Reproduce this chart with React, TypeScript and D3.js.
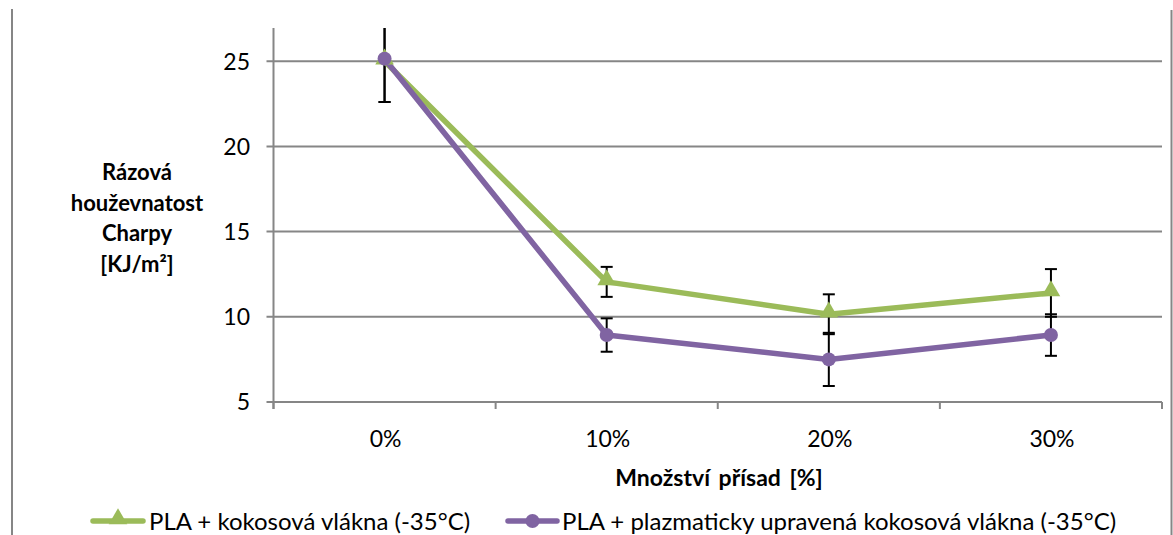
import React from "react";
import * as d3 from "d3";

const categories = ["0%", "10%", "20%", "30%"];
const greenValues = [25.0, 12.05, 10.15, 11.4];
const greenErrors = [2.4, 0.88, 1.17, 1.4];
const purpleValues = [25.15, 8.93, 7.5, 8.93];
const purpleErrors = [2.55, 0.98, 1.56, 1.22];
const yTicks = [5, 10, 15, 20, 25];
const seriesNames = [
  "PLA + kokosová vlákna (-35°C)",
  "PLA + plazmaticky upravená kokosová vlákna (-35°C)",
];
const yTitleLines = ["Rázová", "houževnatost", "Charpy", "[KJ/m²]"];
const xTitle = "Množství přísad [%]";

const W = 1173;
const H = 535;
const FONT = "Lato, 'Open Sans', sans-serif";
const GREEN = "#9BBB59";
const PURPLE = "#8064A2";
const GRID = "#868686";

export default function App() {
  const left = 273.5;
  const right = 1162;
  const top = 28;
  const bottom = 402;
  const x = d3.scaleBand<string>().domain(categories).range([left, right]).padding(0);
  const y = d3.scaleLinear().domain([5, 26.95]).range([bottom, top]);
  const cx = (c: string) => (x(c) as number) + x.bandwidth() / 2;
  const line = d3
    .line<number>()
    .x((_, i) => cx(categories[i]))
    .y((d) => y(d));
  const tri = d3.symbol().type(d3.symbolTriangle).size(150)();
  const series = [
    { name: seriesNames[0], values: greenValues, errors: greenErrors, color: GREEN, marker: "tri" },
    { name: seriesNames[1], values: purpleValues, errors: purpleErrors, color: PURPLE, marker: "circle" },
  ];
  const boundaries = [...categories.map((c) => x(c) as number), right];

  return (
    <svg width={W} height={H} style={{ display: "block", position: "absolute", left: 0, top: 0 }} fontFamily={FONT}>
      <defs>
        <clipPath id="plotclip">
          <rect x={left - 20} y={top} width={right - left + 40} height={bottom - top + 20} />
        </clipPath>
      </defs>
      <rect x={0} y={0} width={W} height={H} fill="#fff" />
      {/* chart borders */}
      <line x1={12} x2={12} y1={9} y2={H} stroke={GRID} strokeWidth={2} />
      <line x1={1171.5} x2={1171.5} y1={10} y2={H} stroke={GRID} strokeWidth={2} />
      {/* gridlines */}
      {yTicks.map((t) => (
        <g key={t}>
          <line x1={left - 7} x2={right} y1={y(t)} y2={y(t)} stroke={GRID} strokeWidth={2} />
          <text x={250} y={y(t)} dy="0.36em" textAnchor="end" fontSize={23} fill="#000">
            {t}
          </text>
        </g>
      ))}
      {/* axes */}
      <line x1={left} x2={left} y1={top} y2={bottom + 7} stroke={GRID} strokeWidth={2} />
      {boundaries.map((b, i) => (
        <line key={i} x1={b} x2={b} y1={bottom} y2={bottom + 7} stroke={GRID} strokeWidth={2} />
      ))}
      {categories.map((c) => (
        <text key={c} x={cx(c) + 1} y={447} textAnchor="middle" fontSize={23} fill="#000">
          {c}
        </text>
      ))}
      <text x={719} y={486} textAnchor="middle" fontSize={23} fontWeight="bold" wordSpacing={3} fill="#000">
        {xTitle}
      </text>
      {yTitleLines.map((l, i) => (
        <text key={i} x={137} y={180 + i * 30.5} textAnchor="middle" fontSize={22} fontWeight="bold" fill="#000">
          {l}
        </text>
      ))}
      {/* series */}
      <g clipPath="url(#plotclip)">
        {series.map((s) =>
          s.values.map((v, i) => {
            const px = cx(categories[i]);
            const y1 = y(v + s.errors[i]);
            const y2 = y(v - s.errors[i]);
            return (
              <g key={"e" + s.name + i} stroke="#000" strokeWidth={2}>
                <line x1={px} x2={px} y1={y1} y2={y2} />
                <line x1={px - 6} x2={px + 6} y1={y1} y2={y1} />
                <line x1={px - 6} x2={px + 6} y1={y2} y2={y2} />
              </g>
            );
          })
        )}
        {series.map((s) => (
          <path key={s.name} d={line(s.values) || ""} fill="none" stroke={s.color} strokeWidth={5.5} strokeLinejoin="round" />
        ))}
        {series.map((s) =>
          s.values.map((v, i) => {
            const px = cx(categories[i]);
            return s.marker === "tri" ? (
              <path key={s.name + i} d={tri || ""} transform={`translate(${px},${y(v) - 2})`} fill={s.color} />
            ) : (
              <circle key={s.name + i} cx={px} cy={y(v)} r={7} fill={s.color} />
            );
          })
        )}
      </g>
      {/* legend */}
      <g>
        <line x1={93} x2={143} y1={521} y2={521} stroke={GREEN} strokeWidth={5.5} strokeLinecap="round" />
        <path d={tri || ""} transform="translate(118,519)" fill={GREEN} />
        <text x={149} y={521} dy="0.36em" fontSize={24} fill="#000">
          {seriesNames[0]}
        </text>
        <line x1={508} x2={557} y1={521} y2={521} stroke={PURPLE} strokeWidth={5.5} strokeLinecap="round" />
        <circle cx={532.5} cy={521} r={7} fill={PURPLE} />
        <text x={562} y={521} dy="0.36em" fontSize={24} fill="#000">
          {seriesNames[1]}
        </text>
      </g>
    </svg>
  );
}
